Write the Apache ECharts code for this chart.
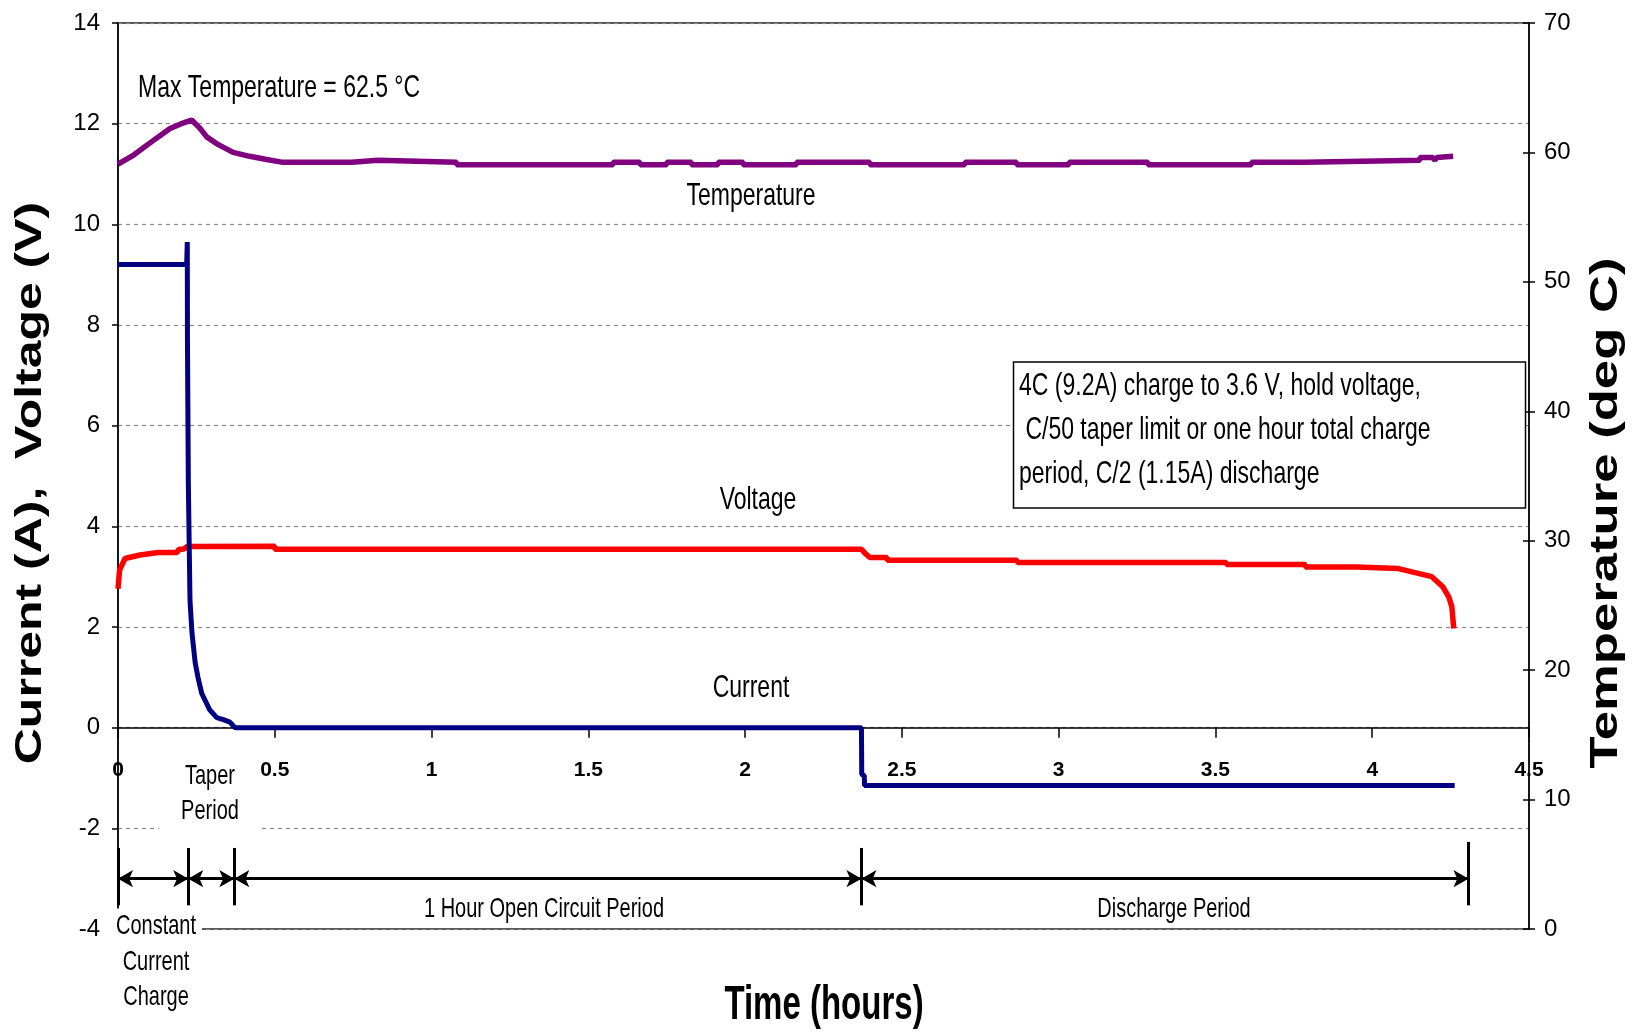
<!DOCTYPE html>
<html><head><meta charset="utf-8">
<script src="https://cdn.jsdelivr.net/npm/echarts/dist/echarts.min.js"></script>
<style>html,body{margin:0;padding:0;background:#fff;}#c{width:1635px;height:1034px;}</style>
</head><body><div id="c"></div>
<script>
// ---- data (time in hours) ----
const tempTime  = [0,0.05,0.10,0.166,0.20,0.235,0.26,0.283,0.32,0.367,0.42,0.474,0.522,0.745,0.745,0.83,0.83,1.08,1.08,1.579,1.579,1.665,1.665,1.75,1.75,1.829,1.829,1.914,1.914,1.994,1.994,2.164,2.164,2.398,2.398,2.701,2.701,2.866,2.866,3.033,3.033,3.285,3.285,3.615,3.615,3.785,3.785,4.152,4.152,4.193,4.20,4.206,4.258];
const tempValue = [59.1,59.8,60.7,61.85,62.2,62.5,61.9,61.2,60.6,60.0,59.7,59.45,59.25,59.25,59.4,59.4,59.25,59.25,59.05,59.05,59.25,59.25,59.05,59.05,59.25,59.25,59.05,59.05,59.25,59.25,59.05,59.05,59.25,59.25,59.05,59.05,59.25,59.25,59.05,59.05,59.25,59.25,59.05,59.05,59.25,59.25,59.4,59.4,59.6,59.6,59.4,59.6,59.7];

const voltTime  = [0,0.005,0.022,0.07,0.128,0.19,0.192,0.21,0.221,0.5,0.5,2.371,2.385,2.398,2.453,2.453,2.868,2.868,3.535,3.535,3.787,3.787,3.95,3.95,4.084,4.13,4.19,4.225,4.244,4.254,4.26];
const voltValue = [2.76,3.13,3.36,3.43,3.48,3.48,3.54,3.55,3.60,3.605,3.545,3.545,3.45,3.38,3.38,3.327,3.327,3.28,3.28,3.24,3.24,3.19,3.19,3.16,3.16,3.09,3.0,2.80,2.60,2.40,1.97];

const currTime  = [0,0.219,0.221,0.2215,0.2243,0.2296,0.236,0.246,0.255,0.267,0.293,0.315,0.336,0.357,0.373,2.371,2.372,2.38,2.381,4.263];
const currValue = [9.2,9.2,9.65,7.7,4.86,2.53,1.88,1.3,1.0,0.68,0.35,0.2,0.16,0.11,0,0,-0.93,-0.95,-1.15,-1.15];

// period boundaries (hours) for the bottom arrows
const periodBounds = [0, 0.224, 0.371, 2.371, 4.307];
const periodLabels = ['Constant\nCurrent\nCharge', 'Taper\nPeriod', '1 Hour Open Circuit Period', 'Discharge Period'];
const noteLines = ['4C (9.2A) charge to 3.6 V, hold voltage,', ' C/50 taper limit or one hour total charge', 'period, C/2 (1.15A) discharge'];

const zip = (a, b) => a.map((t, i) => [t, b[i]]);

const SANS = "'Liberation Sans',Arial,sans-serif";
const SY = 1.4; // vertical stretch of the original picture's text

const chart = echarts.init(document.getElementById('c'), null, {renderer: 'canvas'});

// markLine items for period arrows
const arrowY = -3, barTop = -2.39, barBot = -3.53;
const ml = [];
for (let i = 0; i < periodBounds.length - 1; i++) {
  ml.push([{coord: [periodBounds[i], arrowY], symbol: 'arrow'}, {coord: [periodBounds[i+1], arrowY], symbol: 'arrow'}]);
}
periodBounds.forEach((t, i) => {
  ml.push([{coord: [t, i === periodBounds.length - 1 ? -2.27 : barTop], symbol: 'none'}, {coord: [t, barBot], symbol: 'none'}]);
});

function txt(text, x, y, font, extra, sy) {
  return {type: 'text', x: x, y: y, z: 100, scaleY: sy || SY,
    style: Object.assign({text: text, font: font, fill: '#000', align: 'center', verticalAlign: 'middle'}, extra || {})};
}

const option = {
  animation: false,
  backgroundColor: '#fff',
  grid: {left: 118, right: 106, top: 23, height: 906, show: true, borderColor: '#222', borderWidth: 1.5, backgroundColor: 'transparent'},
  xAxis: {
    type: 'value', min: 0, max: 4.5, interval: 0.5, position: 'bottom', offset: -201.3,
    axisLine: {onZero: false, lineStyle: {color: '#000', width: 1.5}},
    axisTick: {show: true, inside: false, length: 10, lineStyle: {color: '#000', width: 1.5}},
    axisLabel: {margin: 32, color: '#000', fontFamily: SANS, fontSize: 21, fontWeight: 'bold', showMinLabel: true, showMaxLabel: true},
    splitLine: {show: false}
  },
  yAxis: [
    {
      type: 'value', min: -4, max: 14, interval: 2, position: 'left',
      axisLine: {show: true, lineStyle: {color: '#000', width: 1.5}},
      axisTick: {show: true, inside: false, length: 6, lineStyle: {color: '#000', width: 1.5}},
      axisLabel: {margin: 18, color: '#000', fontFamily: SANS, fontSize: 24},
      splitLine: {show: true, lineStyle: {color: '#8a8a8a', width: 1.2, type: [4, 4]}}
    },
    {
      type: 'value', min: 0, max: 70, interval: 10, position: 'right',
      axisLine: {show: true, lineStyle: {color: '#000', width: 1.5}},
      axisTick: {show: true, inside: false, length: 6, lineStyle: {color: '#000', width: 1.5}},
      axisLabel: {margin: 15, color: '#000', fontFamily: SANS, fontSize: 24},
      splitLine: {show: false}
    },
    {
      type: 'value', min: 0, max: 70, interval: 10, position: 'right',
      axisLine: {show: false},
      axisTick: {show: true, inside: true, length: 6, lineStyle: {color: '#000', width: 1.5}},
      axisLabel: {show: false},
      splitLine: {show: false}
    }
  ],
  series: [
    {
      name: 'Temperature', type: 'line', yAxisIndex: 1, data: zip(tempTime, tempValue),
      showSymbol: false, symbol: 'none', lineStyle: {color: '#800080', width: 5.5}, z: 3
    },
    {
      name: 'Voltage', type: 'line', yAxisIndex: 0, data: zip(voltTime, voltValue),
      showSymbol: false, symbol: 'none', lineStyle: {color: '#ff0000', width: 5.5}, z: 3
    },
    {
      name: 'Current', type: 'line', yAxisIndex: 0, data: zip(currTime, currValue),
      showSymbol: false, symbol: 'none', lineStyle: {color: '#000080', width: 5}, z: 4,
      markLine: {
        silent: true, animation: false, symbolSize: [13, 15],
        label: {show: false},
        lineStyle: {color: '#000', width: 3, type: 'solid'},
        emphasis: {disabled: true},
        data: ml
      }
    }
  ],
  graphic: [
    txt('Max Temperature = 62.5 \u00B0C', 138, 88, '23px ' + SANS, {align: 'left'}),
    txt('Temperature', 751, 196, '23px ' + SANS),
    txt('Voltage', 758, 500, '23px ' + SANS),
    txt('Current', 751, 688, '23px ' + SANS),
    {type: 'rect', z: 99, shape: {x: 1013.5, y: 362, width: 512, height: 146}, style: {fill: '#fff', stroke: '#000', lineWidth: 1.5}},
    txt(noteLines[0], 1019, 386, '23px ' + SANS, {align: 'left'}),
    txt(noteLines[1], 1019, 430, '23px ' + SANS, {align: 'left'}),
    txt(noteLines[2], 1019, 474, '23px ' + SANS, {align: 'left'}),
    txt(periodLabels[1], 210, 794, '20px ' + SANS, {backgroundColor: '#fff', padding: [3, 22], lineHeight: 25}),
    txt(periodLabels[0], 156, 962, '20px ' + SANS, {backgroundColor: '#fff', padding: [0, 6], lineHeight: 25.5}),
    txt(periodLabels[2], 544, 909, '20px ' + SANS),
    txt(periodLabels[3], 1174, 909, '20px ' + SANS),
    txt('Time (hours)', 824, 1006, 'bold 33px ' + SANS, null, 1.45),
    {type: 'text', x: 31, y: 483, z: 100, rotation: Math.PI / 2, scaleX: 1.35,
      style: {text: 'Current (A),  Voltage (V)', font: 'bold 37px ' + SANS, fill: '#000', align: 'center', verticalAlign: 'middle'}},
    {type: 'text', x: 1606, y: 513, z: 100, rotation: Math.PI / 2, scaleX: 1.35,
      style: {text: 'Temperature (deg C)', font: 'bold 39px ' + SANS, fill: '#000', align: 'center', verticalAlign: 'middle'}}
  ]
};
chart.setOption(option);
</script></body></html>
